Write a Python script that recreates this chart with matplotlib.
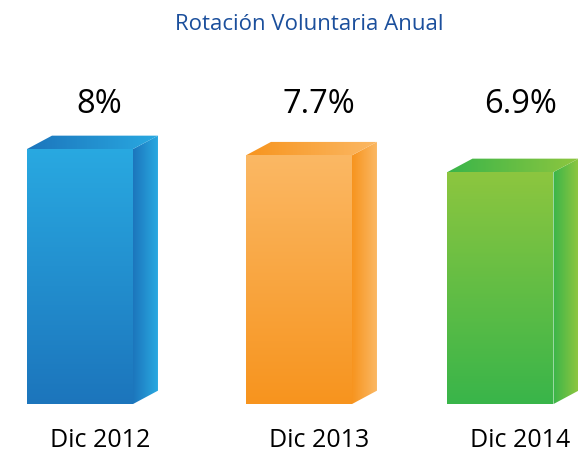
import numpy as np
import matplotlib.pyplot as plt
from matplotlib.patches import Polygon
from matplotlib.colors import to_rgb
import matplotlib.transforms as mtransforms

# data
categories = ['Dic 2012', 'Dic 2013', 'Dic 2014']
values = [8.0, 7.7, 6.9]
labels = ['8%', '7.7%', '6.9%']

# look
front_top = ['#29A9E1', '#FBB864', '#8DC63F']
front_bot = ['#1C75BC', '#F7941E', '#39B54A']
xpos = [0.0, 1.0, 1.92]
base = -4.2
width = 0.484
dx, dy = 0.114, 0.64

plt.rcParams['font.family'] = ['Open Sans', 'DejaVu Sans']

fig = plt.figure(figsize=(5.82, 4.54), dpi=100)
ax = fig.add_axes([0, 0, 1, 1])
ax.axis('off')


def grad_fill(ax, verts, c0, c1, vertical, z):
    verts = np.array(verts)
    x0, x1 = verts[:, 0].min(), verts[:, 0].max()
    y0, y1 = verts[:, 1].min(), verts[:, 1].max()
    t = np.linspace(0, 1, 256)
    cols = np.array([(1 - s) * np.array(to_rgb(c0)) + s * np.array(to_rgb(c1)) for s in t])
    img = cols[:, None, :] if vertical else cols[None, :, :]
    im = ax.imshow(img, extent=[x0, x1, y0, y1], origin='lower', aspect='auto',
                   interpolation='bilinear', zorder=z)
    poly = Polygon(verts, closed=True, facecolor='none', edgecolor='none')
    ax.add_patch(poly)
    im.set_clip_path(poly)


for x, v, ct, cb in zip(xpos, values, front_top, front_bot):
    l, r = x - width / 2, x + width / 2
    # side face
    side = [(r, base), (r + dx, base + dy), (r + dx, v + dy), (r, v)]
    grad_fill(ax, side, cb, ct, False, 1)
    # top face
    top = [(l, v), (r, v), (r + dx, v + dy), (l + dx, v + dy)]
    grad_fill(ax, top, cb, ct, False, 1)
    # front face (bottom -> top)
    front = [(l, base), (r, base), (r, v), (l, v)]
    grad_fill(ax, front, cb, ct, True, 2)

ax.set_xlim(-0.3653, -0.3653 + 2.6575)
ax.set_ylim(-6.59, 15.13)

trans = mtransforms.blended_transform_factory(ax.transData, ax.transAxes)
for x, lab, cat in zip(xpos, labels, categories):
    ax.text(x + 0.09, 0.769, lab, transform=trans, ha='center', va='center',
            fontsize=23.5, color='black')
    ax.text(x + 0.09, 0.029, cat, transform=trans, ha='center', va='center',
            fontsize=18, color='black')

fig.text(0.531, 0.947, 'Rotación Voluntaria Anual', ha='center', va='center',
         fontsize=16, color='#1B4F9C')

fig.savefig('out.png', dpi=100)
